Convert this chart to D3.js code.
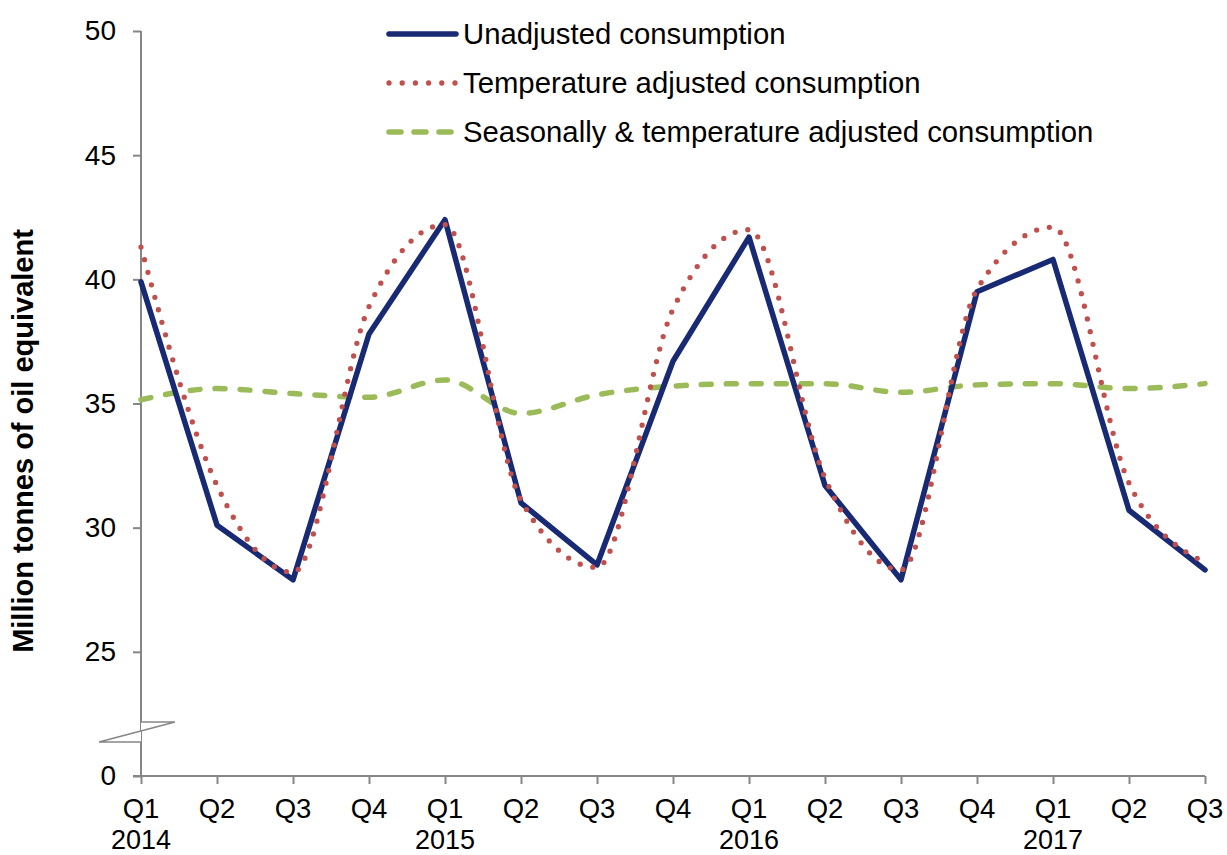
<!DOCTYPE html>
<head>
<meta charset="utf-8">
<script src="https://d3js.org/d3.v7.min.js"></script>
<style>
body {
  margin: 0;
  background: #fff;
}
text {
  font-family: "Liberation Sans", Arial, sans-serif;
  fill: #000;
}
.axis path, .axis line {
  stroke: #868686;
  stroke-width: 2;
}
</style>
</head>
<body>
<div id="chart"></div>
<script>

// --- data ---
let quarters = ["Q1","Q2","Q3","Q4","Q1","Q2","Q3","Q4","Q1","Q2","Q3","Q4","Q1","Q2","Q3"];
let years = ["2014","","","","2015","","","","2016","","","","2017","",""];

let unadjusted  = [39.9, 30.1, 27.9, 37.8, 42.4, 31.0, 28.5, 36.7, 41.7, 31.7, 27.9, 39.5, 40.8, 30.7, 28.3];
let tempAdj     = [41.3, 31.7, 28.2, 38.9, 42.2, 31.1, 28.4, 38.8, 42.0, 32.0, 28.3, 39.6, 42.1, 31.8, 28.6];
let seasTempAdj = [35.15, 35.6, 35.4, 35.25, 35.95, 34.6, 35.35, 35.7, 35.8, 35.8, 35.45, 35.75, 35.8, 35.6, 35.8];

let yTicks = [25, 30, 35, 40, 45, 50];

let seriesNames = ["Unadjusted consumption", "Temperature adjusted consumption",
                   "Seasonally & temperature adjusted consumption"];

// --- layout ---
let W = 1227, H = 855;
let mLeft = 141, mRight = 1205, mTop = 31, mBottom = 776;

let svg = d3.select("#chart").append("svg")
    .attr("width", W)
    .attr("height", H);

let x = d3.scalePoint()
    .domain(d3.range(quarters.length))
    .range([mLeft, mRight]);

// axis has a break: the bottom "0" sits where 20 would be
let y = d3.scaleLinear()
    .domain([20, 50])
    .range([mBottom, mTop]);

// y axis
let yAxis = svg.append("g")
    .attr("class", "axis")
    .attr("transform", "translate(" + mLeft + ",0)")
    .call(d3.axisLeft(y).tickValues(yTicks.concat([20])).tickSize(8).tickSizeOuter(0)
      .tickFormat(function(d) { return d === 20 ? "0" : d; }));
yAxis.selectAll("text")
    .attr("font-size", 28)
    .attr("x", -25);
yAxis.select(".domain").attr("d", "M0," + mTop + "V" + mBottom);

// x axis
let xAxis = svg.append("g")
    .attr("class", "axis")
    .attr("transform", "translate(0," + mBottom + ")")
    .call(d3.axisBottom(x).tickSize(8).tickSizeOuter(0).tickFormat(""));
xAxis.select(".domain").attr("d", "M" + (mLeft - 8) + ",0H" + mRight);

let xl = svg.append("g").selectAll("g")
    .data(quarters)
  .enter().append("g")
    .attr("transform", function(d, i) { return "translate(" + x(i) + ",0)"; });
xl.append("text")
    .attr("y", 818)
    .attr("text-anchor", "middle")
    .attr("font-size", 27.5)
    .text(function(d) { return d; });
xl.append("text")
    .attr("y", 849)
    .attr("text-anchor", "middle")
    .attr("font-size", 27)
    .text(function(d, i) { return years[i]; });

// axis break symbol
let b1 = 722, b2 = 742;
svg.append("path")
    .attr("d", "M" + mLeft + "," + b1 + "H175L99," + b2 + "H" + mLeft + "Z")
    .attr("fill", "#fff")
    .attr("stroke", "none");
svg.append("path")
    .attr("d", "M" + mLeft + "," + b1 + "H175L99," + b2 + "H" + mLeft)
    .attr("fill", "none")
    .attr("stroke", "#868686")
    .attr("stroke-width", 1.5);

// y axis title
svg.append("text")
    .attr("transform", "translate(33,441) rotate(-90)")
    .attr("text-anchor", "middle")
    .attr("font-size", 29)
    .attr("font-weight", "bold")
    .text("Million tonnes of oil equivalent");

// lines
let straight = d3.line()
    .x(function(d, i) { return x(i); })
    .y(function(d) { return y(d); });
let smooth = d3.line()
    .x(function(d, i) { return x(i); })
    .y(function(d) { return y(d); })
    .curve(d3.curveMonotoneX);

let styles = [
  {color: "#172a73", width: 5.5, dash: null, line: straight},
  {color: "#c0504d", width: 5.3, dash: "0 13", line: smooth},
  {color: "#9bbb59", width: 5.5, dash: "10 15", line: smooth}
];

[seasTempAdj, unadjusted, tempAdj].forEach(function(s) {
  let st = s === unadjusted ? styles[0] : s === tempAdj ? styles[1] : styles[2];
  svg.append("path")
      .datum(s)
      .attr("d", st.line)
      .attr("fill", "none")
      .attr("stroke", st.color)
      .attr("stroke-width", st.width)
      .attr("stroke-linecap", "round")
      .attr("stroke-linejoin", "round")
      .attr("stroke-dasharray", st.dash);
});

// legend
let legend = svg.append("g").selectAll("g")
    .data(seriesNames)
  .enter().append("g")
    .attr("transform", function(d, i) { return "translate(0," + (34 + i * 49) + ")"; });

legend.append("line")
    .attr("x1", 389)
    .attr("x2", 456)
    .attr("stroke", function(d, i) { return styles[i].color; })
    .attr("stroke-width", function(d, i) { return styles[i].width; })
    .attr("stroke-linecap", "round")
    .attr("stroke-dasharray", function(d, i) { return i === 1 ? "0 13.2" : i === 2 ? "12 13" : null; });

legend.append("text")
    .attr("x", 463)
    .attr("dy", "0.35em")
    .attr("font-size", 29.3)
    .text(function(d) { return d; });

</script>
</body>
